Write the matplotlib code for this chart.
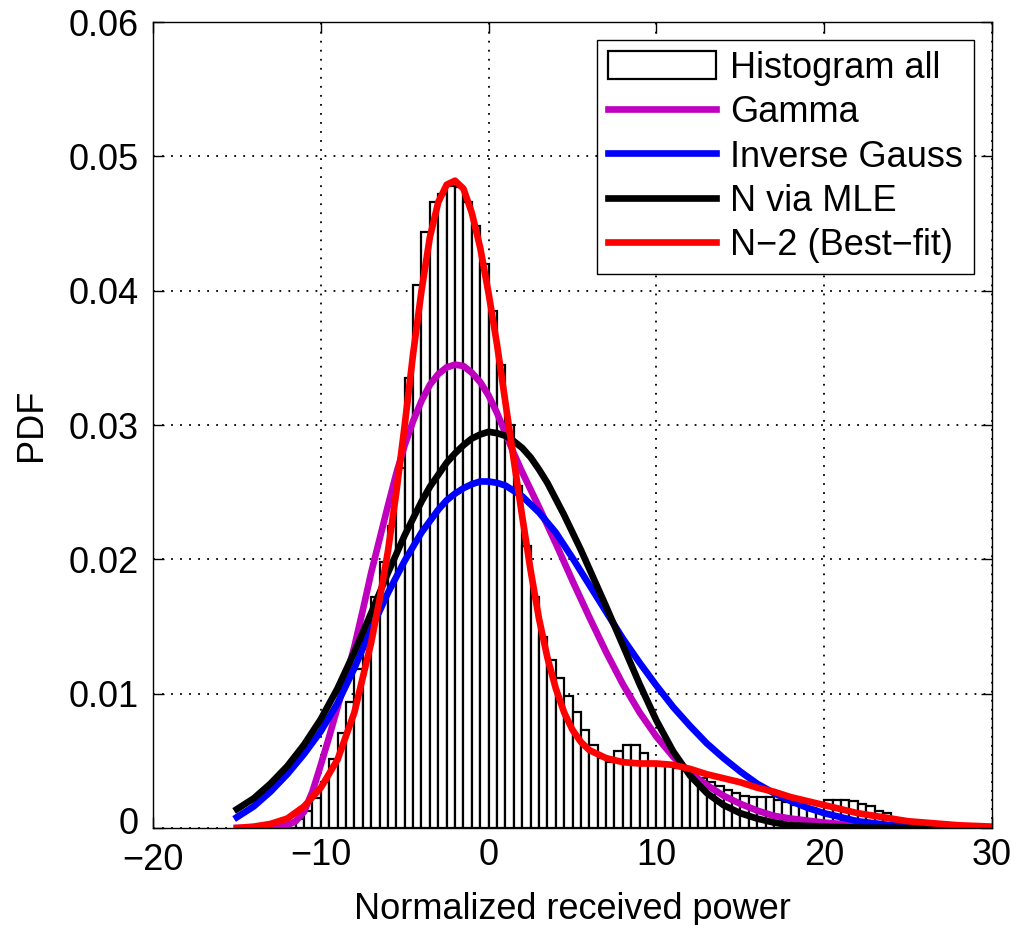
import matplotlib
matplotlib.use("Agg")
import matplotlib.pyplot as plt
import matplotlib.transforms as mtransforms
import numpy as np

plt.rcParams['font.family'] = ['Liberation Sans', 'DejaVu Sans']

# ---- histogram (bin width 0.5, first edge -12) ----
bin_start = -12.0
bin_width = 0.5
hist_heights = [
    0.0003, 0.0007, 0.0013, 0.0022, 0.0034, 0.0051, 0.0071, 0.0094,
    0.0118, 0.0145, 0.0172, 0.0198, 0.0225, 0.0268, 0.0335, 0.0404,
    0.0444, 0.0466, 0.0472, 0.0478, 0.0477, 0.0466, 0.0448, 0.0420,
    0.0385, 0.0345, 0.0300, 0.0255, 0.0210, 0.0172, 0.0142, 0.0125,
    0.0112, 0.0098, 0.0086, 0.0073, 0.0062, 0.0052, 0.0049, 0.0057,
    0.0062, 0.0062, 0.0056, 0.0049, 0.0048, 0.0047, 0.0045, 0.0043,
    0.0040, 0.0037, 0.0034, 0.0031, 0.0028, 0.0026, 0.0024, 0.0023,
    0.0023, 0.0023, 0.0021, 0.0019, 0.0017, 0.0016, 0.0015, 0.0012,
    0.0021, 0.0021, 0.0021, 0.0020, 0.0018, 0.0016, 0.0013, 0.0011,
]

# ---- fitted curves ----
gamma_x = [-15, -14, -13, -12, -11.5, -11, -10.5, -10, -9.5, -9, -8.5, -8, -7.5, -7,
           -6.5, -6, -5.5, -5, -4.5, -4, -3.5, -3, -2.5, -2, -1.5, -1, -0.5, 0,
           0.5, 1, 1.5, 2, 3, 4, 5, 6, 7, 8, 9, 10, 11, 12, 13, 14, 15, 16, 17,
           18, 20, 22, 25, 30]
gamma_y = [0.0, 0.0, 0.0, 0.0002, 0.0005, 0.0012, 0.0027, 0.0047, 0.0068, 0.0090,
           0.0112, 0.0135, 0.0162, 0.0190, 0.0215, 0.0240, 0.0264, 0.0285, 0.0303,
           0.0318, 0.0330, 0.0338, 0.0343, 0.0345, 0.0344, 0.0339, 0.0332, 0.0322,
           0.0309, 0.0294, 0.0279, 0.0265, 0.0239, 0.0212, 0.0184, 0.0157, 0.0131,
           0.0107, 0.0086, 0.0068, 0.0053, 0.0041, 0.0032, 0.0024, 0.0018, 0.0013,
           0.0009, 0.0007, 0.0004, 0.0002, 0.0001, 0.0]

invgauss_x = [-15, -14, -13, -12, -11, -10, -9, -8, -7, -6, -5, -4, -3, -2.5, -2,
              -1.5, -1, -0.5, 0, 0.5, 1, 1.5, 2, 2.5, 3, 4, 5, 6, 7, 8, 9, 10, 11,
              12, 13, 14, 15, 16, 17, 18, 19, 20, 21, 22, 24, 26, 30]
invgauss_y = [0.0008, 0.0016, 0.0027, 0.0040, 0.0055, 0.0072, 0.0093, 0.0119,
              0.0148, 0.0175, 0.0199, 0.0220, 0.0237, 0.0244, 0.0249, 0.0253,
              0.0256, 0.0258, 0.0258, 0.0257, 0.0255, 0.0251, 0.0247, 0.0241,
              0.0235, 0.0220, 0.0201, 0.0181, 0.0161, 0.0141, 0.0123, 0.0106,
              0.0090, 0.0076, 0.0063, 0.0052, 0.0042, 0.0033, 0.0026, 0.0020,
              0.0015, 0.0011, 0.0008, 0.0005, 0.0002, 0.0001, 0.0]

mle_x = [-15, -14, -13, -12, -11, -10, -9, -8, -7, -6, -5, -4, -3.5, -3, -2.5, -2,
         -1.5, -1, -0.5, 0, 0.5, 1, 1.5, 2, 2.5, 3, 3.5, 4, 4.5, 5, 5.5, 6, 6.5,
         7, 8, 9, 10, 11, 12, 13, 14, 15, 16, 17, 18, 20, 22, 25, 30]
mle_y = [0.0014, 0.0022, 0.0033, 0.0046, 0.0062, 0.0081, 0.0104, 0.0131, 0.0160,
         0.0190, 0.0218, 0.0243, 0.0254, 0.0263, 0.0272, 0.0279, 0.0285, 0.0290,
         0.0293, 0.0295, 0.0294, 0.0292, 0.0288, 0.0283, 0.0276, 0.0267, 0.0257,
         0.0245, 0.0233, 0.0220, 0.0207, 0.0193, 0.0179, 0.0165, 0.0136, 0.0107,
         0.0080, 0.0057, 0.0039, 0.0026, 0.0017, 0.0011, 0.0007, 0.0004, 0.0002,
         0.0001, 0.00003, 0.0, 0.0]

n2_x = [-15, -14, -13, -12, -11, -10, -9, -8, -7, -6.5, -6, -5.5, -5, -4.5, -4,
        -3.5, -3, -2.5, -2, -1.5, -1, -0.5, 0, 0.5, 1, 1.5, 2, 2.5, 3, 3.5, 4,
        4.5, 5, 5.5, 6, 7, 8, 9, 10, 11, 12, 13, 14, 15, 16, 17, 18, 19, 20, 21,
        22, 23, 24, 25, 26, 27, 28, 30]
n2_y = [0.0, 0.0001, 0.0003, 0.0007, 0.0016, 0.0030, 0.0051, 0.0086, 0.0138,
        0.0170, 0.0206, 0.0250, 0.0300, 0.0353, 0.0400, 0.0440, 0.0466, 0.0479,
        0.0482, 0.0476, 0.0458, 0.0432, 0.0398, 0.0360, 0.0317, 0.0274, 0.0232,
        0.0192, 0.0156, 0.0127, 0.0104, 0.0086, 0.0073, 0.0064, 0.0058, 0.0052,
        0.0049, 0.0048, 0.0048, 0.0047, 0.0044, 0.0040, 0.0037, 0.0034, 0.0030,
        0.0027, 0.0023, 0.0020, 0.0017, 0.0014, 0.0011, 0.0009, 0.0007, 0.0005,
        0.0004, 0.0003, 0.0002, 0.0001]

x_ticks = [-20, -10, 0, 10, 20, 30]
x_tick_labels = ['\u221220', '\u221210', '0', '10', '20', '30']
y_ticks = [0, 0.01, 0.02, 0.03, 0.04, 0.05, 0.06]
y_tick_labels = ['0', '0.01', '0.02', '0.03', '0.04', '0.05', '0.06']

labels = ['Histogram all', 'Gamma', 'Inverse Gauss', 'N via MLE', 'N\u22122 (Best\u2212fit)']

# ---- figure ----
fig = plt.figure(figsize=(10.18, 9.25), dpi=100)
ax = fig.add_axes([0.1503, 0.1049, 0.8242, 0.8711])

lefts = bin_start + bin_width * np.arange(len(hist_heights))
h_bar = ax.bar(lefts, hist_heights, width=bin_width, align='edge', color='white',
               edgecolor='black', linewidth=1.6, zorder=2)

lw = 4.8
l1, = ax.plot(gamma_x, gamma_y, color=(0.75, 0.0, 0.75), lw=lw, zorder=3)
l2, = ax.plot(invgauss_x, invgauss_y, color='blue', lw=lw, zorder=3)
l3, = ax.plot(mle_x, mle_y, color='black', lw=lw, zorder=3)
l4, = ax.plot(n2_x, n2_y, color='red', lw=lw, zorder=4)

ax.set_xlim(-20, 30)
ax.set_ylim(0, 0.06)
ax.set_xticks(x_ticks)
ax.set_xticklabels(x_tick_labels)
ax.set_yticks(y_ticks)
ax.set_yticklabels(y_tick_labels)
ax.tick_params(direction='in', length=8, width=1, top=True, right=True,
               labelsize=26)
ax.tick_params(axis='x', pad=7)
ax.tick_params(axis='y', pad=10)
ax.grid(True, color='black', linestyle=(0, (1, 4)), linewidth=1.3, zorder=1)
ax.set_axisbelow(True)
for s in ax.spines.values():
    s.set_linewidth(1.0)
    s.set_zorder(5)

# keep the corner labels "0" (y) and "-20" (x) from colliding
zero_lab = ax.get_yticklabels()[0]
zero_lab.set_transform(zero_lab.get_transform() +
                       mtransforms.ScaledTranslation(0, 7 / 100, fig.dpi_scale_trans))
m20_lab = ax.get_xticklabels()[0]
m20_lab.set_transform(m20_lab.get_transform() +
                      mtransforms.ScaledTranslation(0, -5 / 100, fig.dpi_scale_trans))

ax.set_xlabel('Normalized received power', fontsize=26, labelpad=10)
ax.set_ylabel('PDF', fontsize=26, labelpad=14)

leg = ax.legend([h_bar, l1, l2, l3, l4], labels, loc='upper right',
                bbox_to_anchor=(0.9785, 0.978), fontsize=26,
                frameon=True, fancybox=False, edgecolor='black', framealpha=1,
                handlelength=3.0, handleheight=0.8, labelspacing=0.26,
                borderpad=0.3, handletextpad=0.4, borderaxespad=0.0)
leg.get_frame().set_linewidth(1.0)
leg.set_zorder(10)

fig.savefig('out.png', dpi=100)
